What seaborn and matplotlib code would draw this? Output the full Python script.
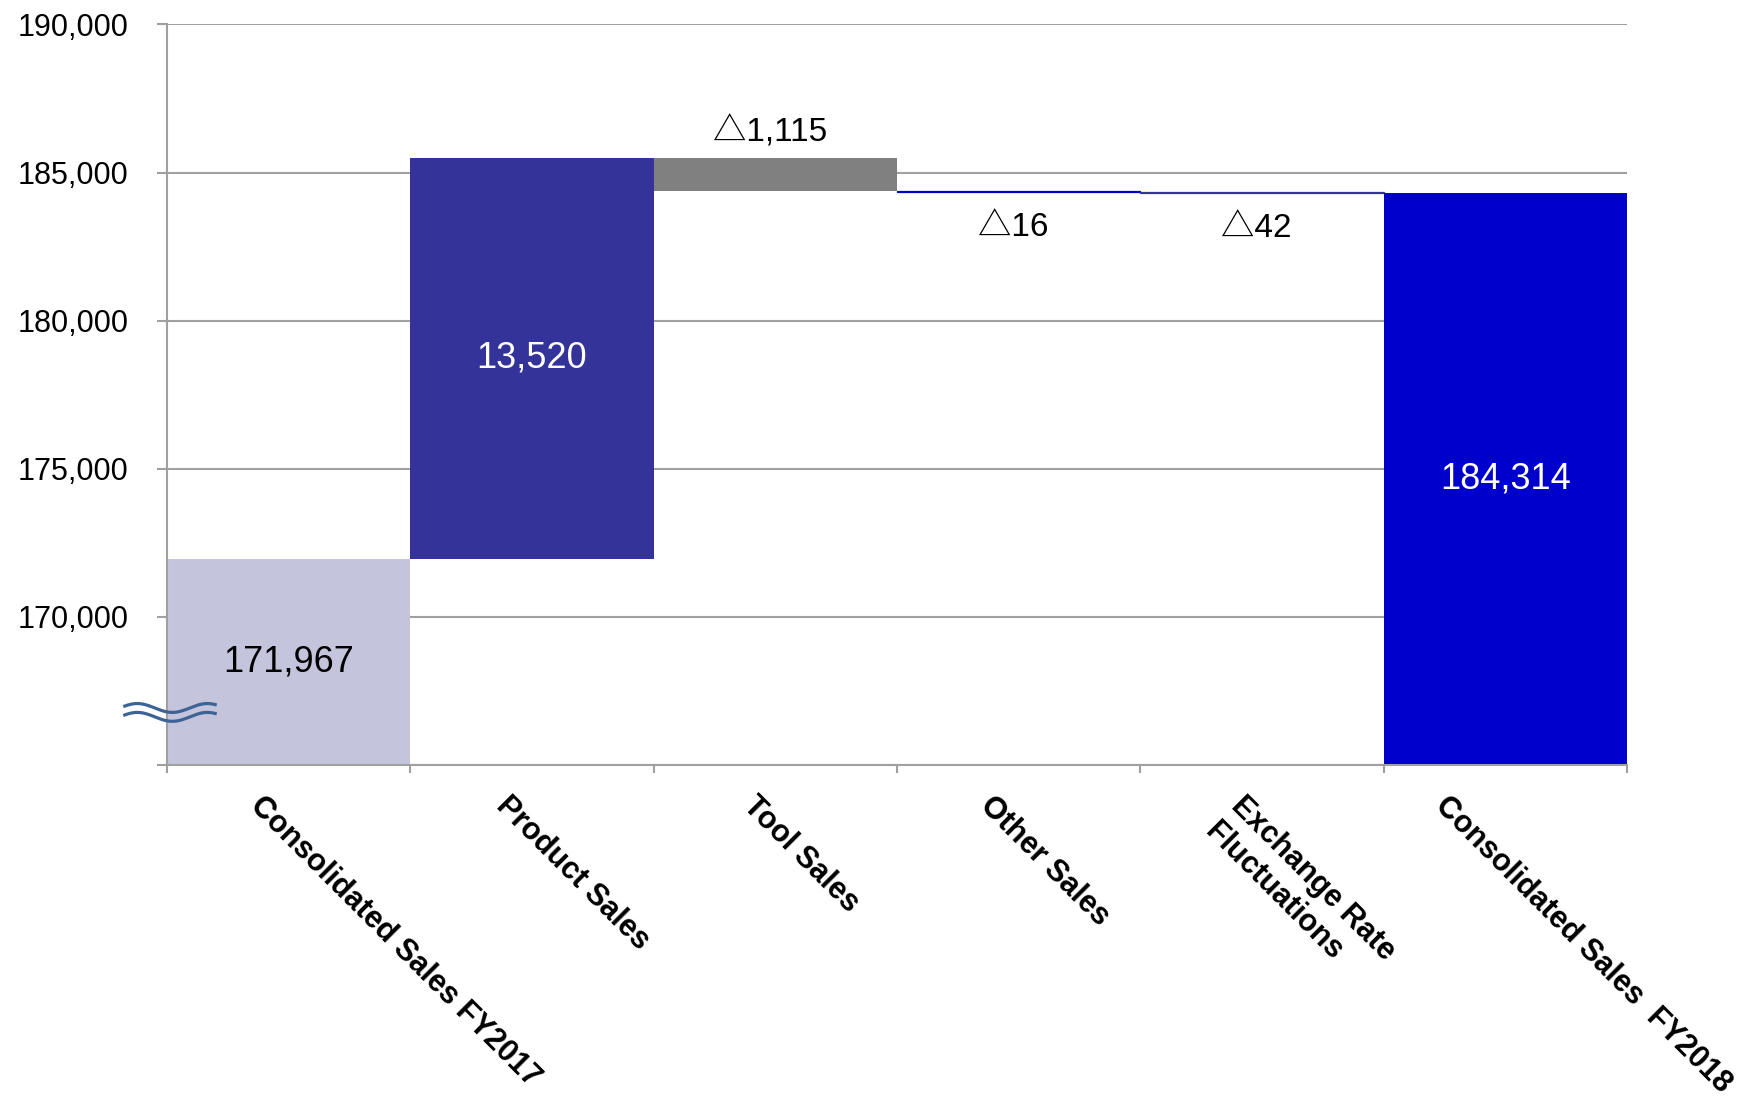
import numpy as np
import pandas as pd
import matplotlib
matplotlib.use("Agg")
import matplotlib.pyplot as plt
import matplotlib.transforms as mtransforms
import seaborn as sns

# ---------------- data ----------------
categories = ["Consolidated Sales FY2017", "Product Sales", "Tool Sales",
              "Other Sales", "Exchange Rate\nFluctuations", "Consolidated Sales  FY2018"]
start_total = 171967
changes = [13520, -1115, -16, -42]
end_total = 184314
value_labels = ["171,967", "13,520", "\u25b31,115", "\u25b316", "\u25b342", "184,314"]
label_place = ["center", "center", "above", "below", "below", "center"]
label_colors = ["black", "white", "black", "black", "black", "white"]
bar_colors = ["#C4C4DC", "#333399", "#808080", "#0000CC", "#333399", "#0000CC"]
y_ticks = [165000, 170000, 175000, 180000, 185000, 190000]
y_tick_labels = ["", "170,000", "175,000", "180,000", "185,000", "190,000"]
y_limits = (165000, 190000)

# waterfall geometry from data
bottoms = [0]
heights = [start_total]
running = start_total
for d in changes:
    bottoms.append(min(running, running + d))
    heights.append(abs(d))
    running += d
bottoms.append(0)
heights.append(end_total)

df = pd.DataFrame({"category": categories, "height": heights, "bottom": bottoms})

# ---------------- style ----------------
sns.set_theme(style="white")
plt.rcParams["font.family"] = ["Liberation Sans", "DejaVu Sans"]
GRAY = "#A0A0A0"
DELTA_FAMILY = ["Liberation Sans", "Noto Sans CJK JP", "DejaVu Sans"]

fig = plt.figure(figsize=(17.44, 11.15), dpi=100)
ax = fig.add_axes([0.0958, 0.3139, 0.8371, 0.6642])

sns.barplot(data=df, x="category", y="height", bottom=df["bottom"].values,
            width=1.0, color=bar_colors[0], saturation=1, errorbar=None, ax=ax,
            linewidth=0, zorder=2)
for patch, c in zip(ax.patches, bar_colors):
    patch.set_facecolor(c)
    patch.set_edgecolor(c)
# keep very thin bars visible
for i, patch in enumerate(ax.patches):
    if heights[i] < 100:
        patch.set_linewidth(0.9)

ax.set_ylim(*y_limits)
ax.set_xlim(-0.5, len(categories) - 0.5)
ax.set_xlabel("")
ax.set_ylabel("")

# grid / spines
ax.set_axisbelow(True)
ax.yaxis.grid(True, color=GRAY, linewidth=1.5)
ax.xaxis.grid(False)
for s in ["top", "right"]:
    ax.spines[s].set_visible(False)
for s in ["left", "bottom"]:
    ax.spines[s].set_color(GRAY)
    ax.spines[s].set_linewidth(1.5)

# y ticks
ax.set_yticks(y_ticks)
ax.set_yticklabels(y_tick_labels, fontsize=22, color="black")
ax.tick_params(axis="y", which="major", left=True, length=7, width=1.5,
               color=GRAY, pad=21)

# x ticks: boundaries as minor ticks, labels at centers
ax.set_xticks(np.arange(-0.5, len(categories) + 0.5, 1.0), minor=True)
ax.set_xticks(range(len(categories)))
ax.set_xticklabels(categories, rotation=-45, ha="left", va="top",
                   rotation_mode="anchor", fontsize=22, fontweight="bold",
                   color="black", linespacing=1.25)
ax.tick_params(axis="x", which="major", bottom=True, length=0, pad=0)
ax.tick_params(axis="x", which="minor", bottom=True, length=6, width=1.5, color=GRAY)

dx_pts = [-16.6, -15, -12, -17, -11.5, -40]
dy_pt = -18.7
for lab, dx in zip(ax.get_xticklabels(), dx_pts):
    lab.set_transform(lab.get_transform() +
                      mtransforms.ScaledTranslation(dx / 72, dy_pt / 72, fig.dpi_scale_trans))

# value labels
for i, (txt, place, col) in enumerate(zip(value_labels, label_place, label_colors)):
    top = bottoms[i] + heights[i]
    if place == "center":
        y = (max(bottoms[i], y_limits[0]) + top) / 2
        ax.text(i, y, txt, ha="center", va="center", fontsize=26, color=col, zorder=5)
    elif place == "above":
        trans = ax.transData + mtransforms.ScaledTranslation(-4 / 72, 12 / 72, fig.dpi_scale_trans)
        ax.text(i, top, txt, ha="center", va="baseline", fontsize=24, color=col,
                family=DELTA_FAMILY, transform=trans, zorder=5)
    else:
        trans = ax.transData + mtransforms.ScaledTranslation(-4 / 72, -32 / 72, fig.dpi_scale_trans)
        ax.text(i, bottoms[i], txt, ha="center", va="baseline", fontsize=24, color=col,
                family=DELTA_FAMILY, transform=trans, zorder=5)

# axis-break wave symbol
t = np.linspace(0, 1, 200)
wave_x = -0.030 + t * 0.064
for yc in (0.077, 0.065):
    ax.plot(wave_x, yc + 0.006 * np.cos(2 * np.pi * (t - 0.15) / 0.75),
            color="#3D6394", linewidth=2.3, transform=ax.transAxes,
            clip_on=False, zorder=6, solid_capstyle="butt")

fig.savefig("out.png", dpi=100)
